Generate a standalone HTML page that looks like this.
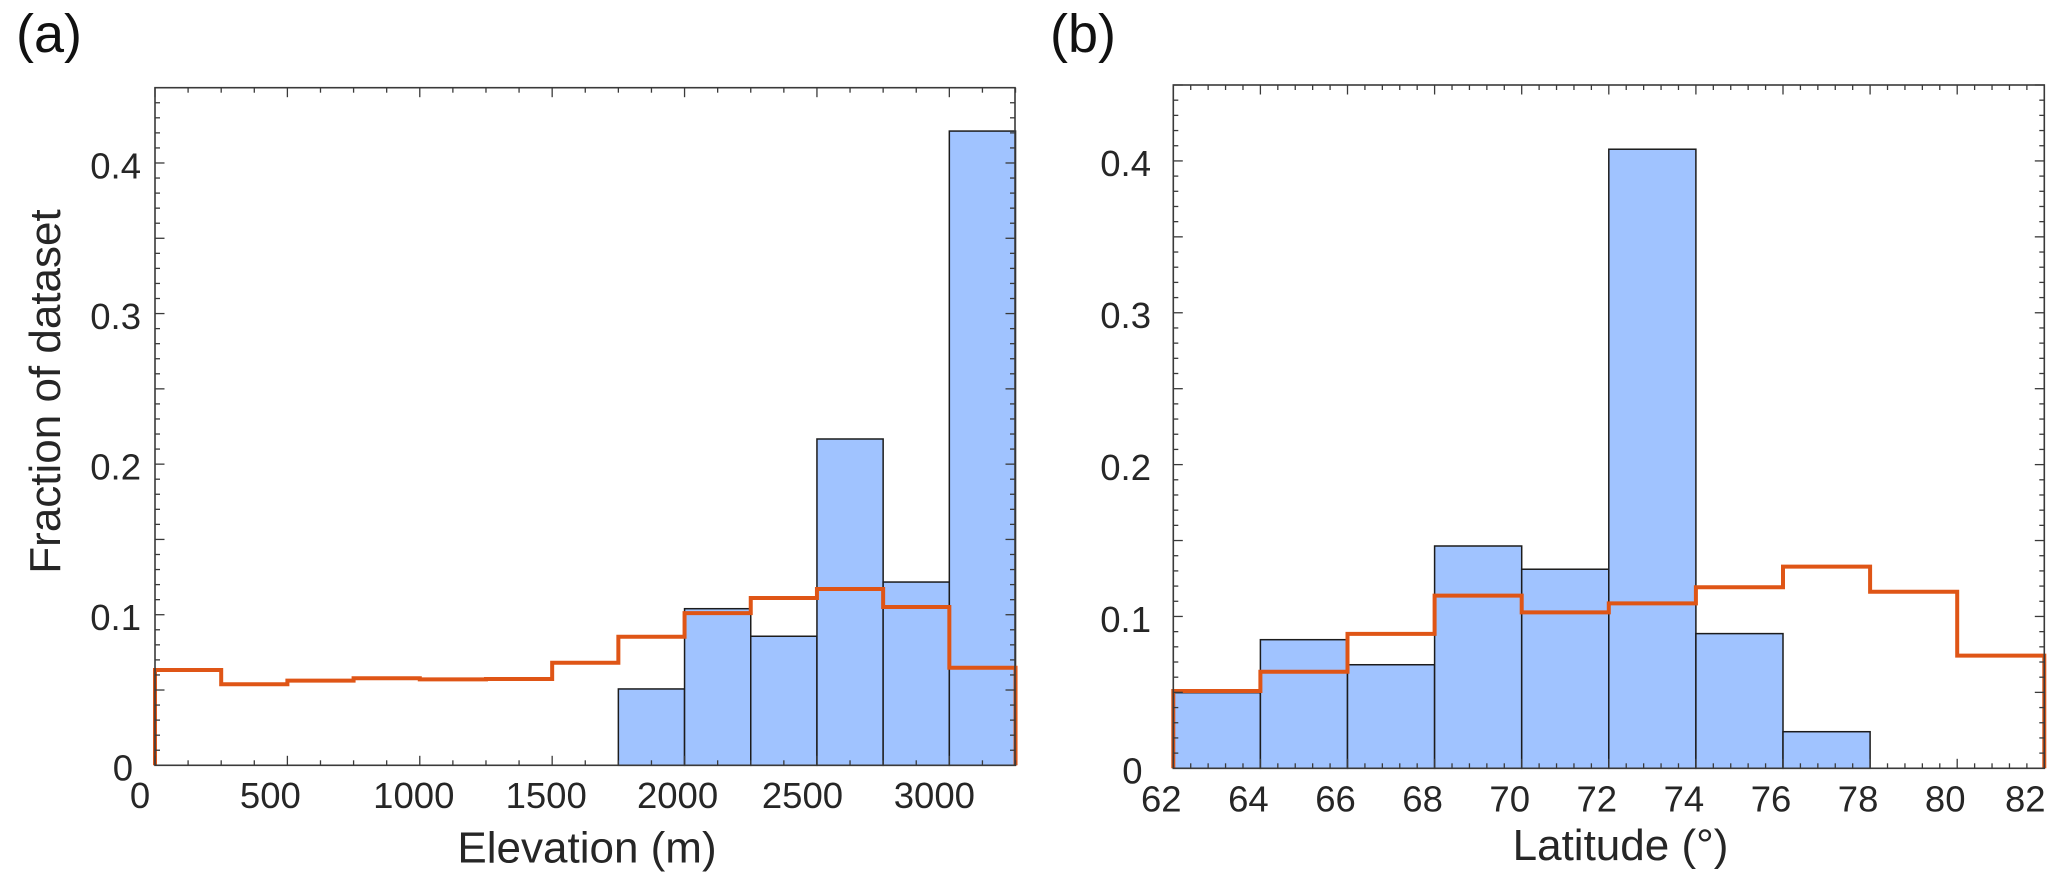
<!DOCTYPE html>
<html lang="en">
<head>
<meta charset="utf-8">
<title>Elevation and latitude histograms</title>
<style>
  html, body { margin: 0; padding: 0; background: #ffffff; }
  body { width: 2067px; height: 886px; overflow: hidden; }
  svg { display: block; font-family: "Liberation Sans", Arial, sans-serif; }
</style>
</head>
<body>
<svg id="figure" xmlns="http://www.w3.org/2000/svg" width="2067" height="886" viewBox="0 0 2067 886">
  <rect x="0" y="0" width="2067" height="886" fill="#ffffff"/>
  <text x="16" y="52" font-size="54" fill="#111111">(a)</text>
  <text x="1050" y="52" font-size="54" fill="#111111">(b)</text>
  <text transform="translate(60 391.5) rotate(-90)" text-anchor="middle" font-size="44" fill="#262626">Fraction of dataset</text>
  <text x="587" y="862.5" text-anchor="middle" font-size="44" fill="#262626">Elevation (m)</text>
  <text x="1620.5" y="860" text-anchor="middle" font-size="44" fill="#262626">Latitude (°)</text>
  <g id="panel-a"></g>
  <g id="panel-b"></g>
</svg>
<script>
// Panel (a): elevation histogram values
const elevationBinEdges = [0, 250, 500, 750, 1000, 1250, 1500, 1750, 2000, 2250, 2500, 2750, 3000, 3250];
const elevationBlue = [0, 0, 0, 0, 0, 0, 0, 0.0507, 0.104, 0.0857, 0.2167, 0.1217, 0.4212];
const elevationOrange = [0.0633, 0.0538, 0.0562, 0.0578, 0.0571, 0.0573, 0.0681, 0.0854, 0.1011, 0.1111, 0.1171, 0.1051, 0.0648];
const elevationTickLabels = [0, 500, 1000, 1500, 2000, 2500, 3000];

// Panel (b): latitude histogram values
const latitudeBinEdges = [62, 64, 66, 68, 70, 72, 74, 76, 78, 80, 82];
const latitudeBlue = [0.0498, 0.0847, 0.0682, 0.1464, 0.1311, 0.4077, 0.0887, 0.0241, 0, 0];
const latitudeOrange = [0.0509, 0.0636, 0.0885, 0.1137, 0.1027, 0.1086, 0.1192, 0.1328, 0.1163, 0.0742];
const latitudeTickLabels = [62, 64, 66, 68, 70, 72, 74, 76, 78, 80, 82];

// Shared y axis
const fractionTickLabels = [0, 0.1, 0.2, 0.3, 0.4];

const SVG_NS = 'http://www.w3.org/2000/svg';
const AXIS_COLOR = '#3a3a3a';
const TEXT_COLOR = '#262626';
const BAR_FILL = '#a0c3ff';
const BAR_EDGE = '#1c1c1c';
const STEP_COLOR = '#df5516';

function make(tag, attrs, parent) {
  const node = document.createElementNS(SVG_NS, tag);
  for (const key in attrs) node.setAttribute(key, attrs[key]);
  parent.appendChild(node);
  return node;
}

function tickLine(parent, x1, y1, x2, y2, width, name) {
  const tick = make('line', { x1: x1, y1: y1, x2: x2, y2: y2, stroke: AXIS_COLOR, 'stroke-width': width }, parent);
  
  
}

function drawPanel(root, cfg) {
  const xScale = function (v) { return cfg.left + (v - cfg.xMin) / (cfg.xMax - cfg.xMin) * (cfg.right - cfg.left); };
  const yScale = function (v) { return cfg.bottom - v / 0.45 * (cfg.bottom - cfg.top); };

  // Bars
  cfg.blue.forEach(function (value, i) {
    if (value <= 0) return;
    const x0 = xScale(cfg.edges[i]);
    const x1 = xScale(cfg.edges[i + 1]);
    const bar = make('rect', {
      x: x0, y: yScale(value), width: x1 - x0, height: cfg.bottom - yScale(value),
      fill: BAR_FILL, stroke: BAR_EDGE, 'stroke-width': 1.5
    }, root);
    
    
  });

  // Stepped outline
  let d = 'M' + xScale(cfg.edges[0]) + ' ' + yScale(0);
  cfg.orange.forEach(function (value, i) {
    d += ' L' + xScale(cfg.edges[i]) + ' ' + yScale(value);
    d += ' L' + xScale(cfg.edges[i + 1]) + ' ' + yScale(value);
  });
  d += ' L' + xScale(cfg.edges[cfg.edges.length - 1]) + ' ' + yScale(0);
  const step = make('path', { d: d, fill: 'none', stroke: STEP_COLOR, 'stroke-width': 4, 'stroke-linejoin': 'miter' }, root);
  
  

  // Frame
  const frame = make('rect', {
    x: cfg.left, y: cfg.top, width: cfg.right - cfg.left, height: cfg.bottom - cfg.top,
    fill: 'none', stroke: AXIS_COLOR, 'stroke-width': 1.6
  }, root);
  
  

  // X ticks on bottom and top
  const xSteps = Math.round((cfg.xMax - cfg.xMin) / cfg.xMinor);
  for (let i = 0; i <= xSteps; i++) {
    const value = cfg.xMin + i * cfg.xMinor;
    const isMajor = i % cfg.xMajorEvery === 0;
    const len = isMajor ? 9.5 : 5;
    const px = xScale(value);
    tickLine(root, px, cfg.bottom, px, cfg.bottom - len, 1.3, 'x-tick-bottom-' + cfg.id);
    tickLine(root, px, cfg.top, px, cfg.top + len, 1.3, 'x-tick-top-' + cfg.id);
  }

  // Y ticks on left and right
  for (let i = 0; i <= 45; i++) {
    const py = yScale(i * 0.01);
    const len = i % 5 === 0 ? 9.5 : 5;
    tickLine(root, cfg.left, py, cfg.left + len, py, 1.3, 'y-tick-left-' + cfg.id);
    tickLine(root, cfg.right, py, cfg.right - len, py, 1.3, 'y-tick-right-' + cfg.id);
  }

  // X tick labels (hand-placed in the source figure, hence the per-label nudge)
  cfg.xLabels.forEach(function (value, i) {
    const label = make('text', {
      x: xScale(value) + cfg.xLabelNudge(i), y: cfg.xLabelBaseline,
      'text-anchor': 'middle', 'font-size': 36.5, fill: TEXT_COLOR
    }, root);
    label.textContent = String(value);
    
    
  });

  // Y tick labels
  fractionTickLabels.forEach(function (value) {
    const label = make('text', {
      x: value === 0 ? cfg.zeroLabelRight : cfg.yLabelRight, y: yScale(value) + 15.3,
      'text-anchor': 'end', 'font-size': 36.5, fill: TEXT_COLOR
    }, root);
    label.textContent = String(value);
    
    
  });
}

const elevationNudge = [-15, -17, -6, -6, -7, -14.5, -15];

drawPanel(document.getElementById('panel-a'), {
  id: 'elevation',
  left: 155, right: 1015, top: 87.7, bottom: 765.3,
  xMin: 0, xMax: 3248, xMinor: 125, xMajorEvery: 4,
  edges: elevationBinEdges, blue: elevationBlue, orange: elevationOrange, xLabels: elevationTickLabels,
  xLabelNudge: function (i) { return elevationNudge[i]; },
  xLabelBaseline: 808, yLabelRight: 141, zeroLabelRight: 133
});

drawPanel(document.getElementById('panel-b'), {
  id: 'latitude',
  left: 1173.3, right: 2044.3, top: 85, bottom: 768.3,
  xMin: 62, xMax: 82, xMinor: 0.4, xMajorEvery: 5,
  edges: latitudeBinEdges, blue: latitudeBlue, orange: latitudeOrange, xLabels: latitudeTickLabels,
  xLabelNudge: function (i) { return i === latitudeTickLabels.length - 1 ? -19 : -12; },
  xLabelBaseline: 811.5, yLabelRight: 1151, zeroLabelRight: 1142.5
});
</script>
</body>
</html>
